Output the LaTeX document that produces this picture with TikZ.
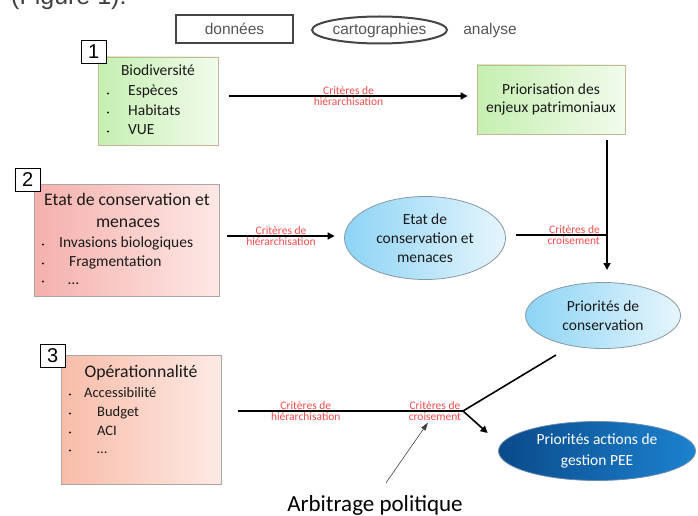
\documentclass[tikz,border=0pt]{standalone}
\usepackage{fontspec}
\setmainfont{Carlito}
\newfontfamily\arialfont{Liberation Sans}
\usepackage{xcolor}
\definecolor{txt}{HTML}{1A1A1A}
\definecolor{figgray}{HTML}{404040}
\definecolor{legendgray}{HTML}{555555}
\definecolor{legendedge}{HTML}{454545}
\definecolor{critred}{HTML}{F24B4B}
\definecolor{greenL}{HTML}{C5EFB0}
\definecolor{greenR}{HTML}{F1FBEC}
\definecolor{greenedge}{HTML}{C8B597}
\definecolor{pinkL}{HTML}{F5B0AC}
\definecolor{pinkR}{HTML}{FDE8E5}
\definecolor{salmonL}{HTML}{F8BCA9}
\definecolor{salmonR}{HTML}{FDEAE4}
\definecolor{pinkedge}{HTML}{ABA5A5}
\definecolor{skyL}{HTML}{8DD4F5}
\definecolor{skyR}{HTML}{E6F5FC}
\definecolor{skyedge}{HTML}{8797A3}
\definecolor{navyL}{HTML}{0A4A8A}
\definecolor{navyR}{HTML}{1C82CF}
\definecolor{navyedge}{HTML}{6C8DB3}
\usepackage{tikz}
\usetikzlibrary{arrows.meta, positioning, shapes.geometric}

\begin{document}
\begin{tikzpicture}[
  x=1pt, y=-1pt,
  legendtxt/.style={font=\arialfont\fontsize{15.5}{18}\selectfont, text=legendgray},
  legendbox/.style={legendtxt, draw=legendedge, line width=2pt,
    minimum width=117, minimum height=28, inner sep=0},
  legendoval/.style={legendtxt, ellipse, draw=legendedge, line width=2pt,
    minimum width=135, minimum height=27, inner sep=0},
  numbox/.style={draw=black, fill=white, line width=0.8pt, inner sep=0,
    minimum width=25, minimum height=23, font=\arialfont\fontsize{20}{20}\selectfont},
  greenbox/.style={draw=greenedge, line width=0.8pt, left color=greenL, right color=greenR},
  pinkbox/.style={draw=pinkedge, line width=0.8pt, left color=pinkL, right color=pinkR},
  salmonbox/.style={draw=pinkedge, line width=0.8pt, left color=salmonL, right color=salmonR},
  skyoval/.style={ellipse, draw=skyedge, line width=0.8pt, left color=skyL, right color=skyR,
    inner sep=0, text=txt, align=center, font=\fontsize{15.5}{19}\selectfont},
  navyoval/.style={ellipse, draw=navyedge, line width=0.8pt, left color=navyL, right color=navyR,
    inner sep=0, text=white, align=center, font=\fontsize{15.5}{21}\selectfont},
  boxtitle/.style={text=txt, inner sep=0, font=\fontsize{17.7}{20}\selectfont},
  itemtxt/.style={text=txt, inner sep=0, font=\fontsize{14.5}{17}\selectfont},
  crit/.style={text=critred, inner sep=1pt, font=\fontsize{11.5}{13}\selectfont},
  link/.style={draw=black, line width=1.6pt},
  flow/.style={link, -{Triangle[length=7pt, width=7pt]}},
  thinflow/.style={draw=figgray, line width=0.6pt, -{Triangle[length=8pt, width=5pt]}}
]
  \useasboundingbox (0,0) rectangle (698,516);

  \node[anchor=base west, inner sep=0, text=figgray,
        font=\arialfont\fontsize{25}{30}\selectfont] (fig) at (11,5) {(Figure 1).};

  \node[legendbox] (donnees) at (234.5,29) {données};
  \node[legendoval] (carto) at (379.5,30) {cartographies};
  \node[legendtxt] (analyse) at (490,30) {analyse};

  % 1 - biodiversite
  \node[greenbox, minimum width=120, minimum height=88] (bio) at (158,101) {};
  \node[numbox, above left=-7pt and -9pt of bio.north west] (n1) {1};
  \node[boxtitle, anchor=base, font=\fontsize{15.5}{18}\selectfont] (biot) at (158,76) {Biodiversité};
  \foreach \lbl/\yy [count=\i] in {Espèces/96, Habitats/115, VUE/134} {
    \fill[txt] (108,\yy-2.5) circle (1.1);
    \node[itemtxt, anchor=base west, font=\fontsize{15.5}{18}\selectfont] (bio-\i) at (128,\yy) {\lbl};
  }

  \node[greenbox, minimum width=148, minimum height=69, align=center, text=txt,
        font=\fontsize{15.5}{18.5}\selectfont] (prio) at (551,99.5)
    {Priorisation des\\enjeux patrimoniaux};

  % 2 - etat de conservation
  \node[pinkbox, minimum width=185, minimum height=112] (etatbox) at (126.5,240) {};
  \node[numbox, above left=-8pt and -7pt of etatbox.north west] (n2) {2};
  \node[boxtitle, anchor=base] (et1) at (127,205) {Etat de conservation et};
  \node[boxtitle, anchor=base] (et2) at (128,227) {menaces};
  \foreach \lbl/\xx/\yy [count=\i] in {Invasions biologiques/59/247, Fragmentation/69/266, \ldots/68/284} {
    \fill[txt] (43,\yy-2.5) circle (1.1);
    \node[itemtxt, anchor=base west, font=\fontsize{15.5}{18}\selectfont] (etat-\i) at (\xx,\yy) {\lbl};
  }

  \node[skyoval, minimum width=161, minimum height=83] (etat) at (425,238)
    {Etat de\\conservation et\\menaces};
  \node[skyoval, minimum width=155, minimum height=66] (cons) at (603,315.5)
    {Priorités de\\conservation};

  % 3 - operationnalite
  \node[salmonbox, minimum width=160, minimum height=129] (ops) at (141,419.5) {};
  \node[numbox, above left=-13pt and -5pt of ops.north west] (n3) {3};
  \node[boxtitle, anchor=base] (opst) at (141,377) {Opérationnalité};
  \foreach \lbl/\xx/\yy [count=\i] in {Accessibilité/84/397, Budget/97/416, ACI/97/435, \ldots/97/453} {
    \fill[txt] (70,\yy-2.5) circle (1.1);
    \node[itemtxt, anchor=base west] (ops-\i) at (\xx,\yy) {\lbl};
  }

  \node[navyoval, minimum width=197, minimum height=59] (gest) at (597,451)
    {Priorités actions de\\gestion PEE};

  \coordinate (j1) at (607,235);
  \coordinate (j2) at (607,270);
  \coordinate (j3) at (463,411);

  \draw[flow] ([shift={(11pt,5pt)}]bio.east) --
    node[crit, above] (c1a) {Critères de}
    node[crit, below] (c1b) {hiérarchisation}
    ([shift={(-9pt,3.5pt)}]prio.west);
  \draw[flow] ([shift={(8pt,4pt)}]etatbox.east) --
    node[crit, above] (c2a) {Critères de}
    node[crit, below] (c2b) {hiérarchisation}
    ([shift={(-9.5pt,2pt)}]etat.west);

  \draw[link] ([shift={(10.5pt,3pt)}]etat.east) -- (j1);
  \node[crit, anchor=south east] (c5a) at ([xshift=-6pt]j1) {Critères de};
  \node[crit, anchor=north east] (c5b) at ([xshift=-6pt]j1) {croisement};
  \draw[flow] ([shift={(56pt,-6pt)}]prio.south) -- (j1) -- (j2);

  \draw[link] ([shift={(17pt,8.5pt)}]ops.east) --
    node[crit, above, pos=0.30] (c3a) {Critères de}
    node[crit, below, pos=0.30] (c3b) {hiérarchisation}
    node[crit, above, pos=0.875] (c4a) {Critères de}
    node[crit, below, pos=0.875] (c4b) {croisement}
    (j3);
  \draw[link] (j3) -- ([shift={(-47pt,-39.5pt)}]cons.center);
  \draw[flow] (j3) -- ([shift={(-10.5pt,18pt)}]gest.west);

  \node[anchor=base, inner sep=2pt, text=black,
        font=\fontsize{23}{26}\selectfont] (arb) at (375,511) {Arbitrage politique};
  \draw[thinflow] ([shift={(11pt,10pt)}]arb.north) -- ([xshift=-7pt]c4b.south);
\end{tikzpicture}
\end{document}
